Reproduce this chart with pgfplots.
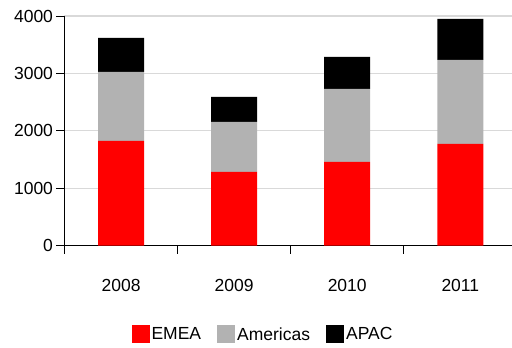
\documentclass[border=0pt]{standalone}
\usepackage{pgfplots}
\pgfplotsset{compat=1.18}
\usepackage{fontspec}
\setmainfont{Liberation Sans}
\definecolor{emea}{HTML}{FF0000}
\definecolor{amer}{HTML}{B2B2B2}
\definecolor{gridc}{HTML}{D9D9D9}
\begin{document}
\begin{tikzpicture}
\begin{axis}[
  at={(0,0)}, anchor=south west,
  scale only axis,
  width=447.5bp, height=229.7bp,
  ybar stacked, bar width=46bp,
  xmin=-0.5, xmax=3.457,
  ymin=0, ymax=4000,
  ytick={0,1000,2000,3000,4000},
  xtick={0,1,2,3},
  xticklabels={2008,2009,2010,2011},
  minor xtick={-0.5,0.5,1.5,2.5,3.5},
  major x tick style={draw=none},
  tick align=outside,
  major tick length=8bp, minor tick length=8bp,
  axis x line*=bottom, axis y line*=left,
  axis line style={black, line width=1pt},
  tick style={black, line width=1pt},
  ymajorgrids, grid style={gridc, line width=1.2pt},
  scaled y ticks=false,
  /pgf/number format/assume math mode=true,
  /pgf/number format/1000 sep={},
  tick label style={font=\fontsize{17.5bp}{20bp}\selectfont},
  xticklabel style={yshift=-22bp},
  legend style={font=\fontsize{17.5bp}{20bp}\selectfont, draw=none, at={(0.4436,-0.385)}, anchor=center, legend columns=3, column sep=0bp, /tikz/every even column/.append style={column sep=14bp}, nodes={inner xsep=2bp}},
  legend image code/.code={\fill[#1] (0bp,-8bp) rectangle (18bp,10bp);},
  every axis plot/.append style={draw=none},
]
\addplot[fill=emea] coordinates {(0,1824) (1,1284) (2,1458) (3,1772)};
\addplot[fill=amer] coordinates {(0,1202) (1,871) (2,1272) (3,1463)};
\addplot[fill=black] coordinates {(0,592) (1,435) (2,557) (3,715)};
\legend{EMEA,Americas,APAC}
\end{axis}
\pgfresetboundingbox
\path[use as bounding box] (-64.5bp,-102.3bp) rectangle (447.5bp,245.7bp);
\end{tikzpicture}
\end{document}
